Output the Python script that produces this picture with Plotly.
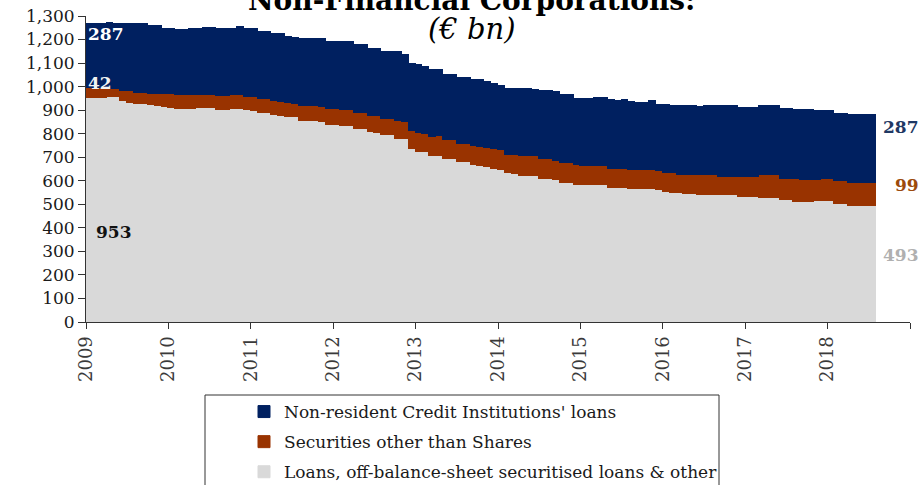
import plotly.graph_objects as go

# ---- data (EUR bn, monthly from Jan 2009) ----
year_labels = ["2009", "2010", "2011", "2012", "2013", "2014", "2015", "2016", "2017", "2018", ""]
year_ticks = [0, 12, 24, 36, 48, 60, 72, 84, 96, 108, 120]

months = list(range(115))

loans = [
    953, 953, 953, 956, 955, 940, 930, 928, 925, 920,
    918, 912, 909, 907, 906, 906, 908, 909, 909, 901,
    899, 905, 906, 902, 895, 890, 886, 880, 876, 872,
    870, 853, 853, 852, 850, 836, 836, 834, 832, 822,
    820, 807, 805, 796, 795, 779, 779, 737, 722, 722,
    705, 705, 691, 691, 680, 680, 668, 664, 658, 652,
    644, 633, 630, 620, 620, 620, 609, 609, 602, 592,
    592, 584, 582, 582, 582, 582, 571, 571, 571, 565,
    565, 565, 565, 561, 554, 547, 547, 543, 543, 541,
    541, 538, 538, 538, 538, 531, 531, 531, 528, 528,
    528, 517, 517, 510, 510, 510, 513, 513, 513, 502,
    502, 493, 493, 493, 493,
]

securities = [
    43, 43, 43, 32, 33, 40, 50, 45, 48, 49,
    51, 57, 60, 56, 57, 57, 58, 57, 57, 59,
    61, 61, 60, 54, 61, 56, 60, 57, 59, 57,
    58, 65, 65, 64, 65, 68, 68, 68, 68, 67,
    69, 68, 70, 65, 66, 75, 72, 75, 80, 78,
    82, 84, 81, 81, 78, 78, 78, 80, 82, 84,
    85, 78, 81, 86, 84, 84, 82, 82, 81, 83,
    85, 82, 81, 81, 79, 79, 81, 81, 81, 80,
    80, 82, 82, 81, 79, 86, 79, 83, 81, 82,
    82, 85, 78, 78, 78, 85, 85, 85, 95, 95,
    95, 92, 92, 99, 95, 95, 92, 93, 93, 97,
    97, 99, 99, 99, 99,
]

nonresident = [
    269, 269, 269, 284, 280, 288, 288, 291, 291, 287,
    287, 277, 277, 276, 276, 280, 280, 284, 284, 286,
    286, 280, 286, 287, 287, 286, 286, 288, 290, 283,
    279, 283, 283, 285, 286, 285, 285, 287, 289, 286,
    286, 286, 286, 286, 286, 293, 282, 285, 288, 283,
    282, 280, 279, 279, 279, 279, 284, 284, 280, 274,
    272, 277, 277, 282, 284, 280, 289, 289, 294, 291,
    289, 283, 286, 286, 291, 292, 293, 285, 290, 290,
    287, 285, 290, 281, 287, 283, 290, 290, 292, 290,
    293, 293, 300, 300, 300, 293, 293, 293, 293, 293,
    293, 297, 297, 290, 294, 294, 290, 289, 289, 286,
    286, 289, 289, 289, 286,
]

series_names = [
    "Loans, off-balance-sheet securitised loans & other",
    "Securities other than Shares",
    "Non-resident Credit Institutions' loans",
]
series_colors = ["#D9D9D9", "#993300", "#002060"]
legend_ranks = [3, 2, 1]

# ---- figure ----
W, H = 921, 485
ML, MR, MT, MB = 86, 11, 16, 163
PW, PH = W - ML - MR, H - MT - MB


def px_x(px):
    return (px - ML) / PW


def px_y(py):
    return (H - MB - py) / PH


fig = go.Figure()
for i, (name, vals, col) in enumerate(zip(series_names, [loans, securities, nonresident], series_colors)):
    fig.add_trace(go.Bar(
        x=months, y=vals, width=1, offset=0, name=name,
        legendgroup="g%d" % i, legendrank=legend_ranks[i],
        marker=dict(color=col, line=dict(color=col, width=1)),
        hoverinfo="skip",
    ))

SERIF = "DejaVu Serif"

fig.update_layout(
    width=W, height=H,
    margin=dict(l=ML, r=MR, t=MT, b=MB, autoexpand=False),
    paper_bgcolor="white", plot_bgcolor="white",
    barmode="stack", bargap=0,
    font=dict(family=SERIF, color="#1a1a1a"),
    showlegend=True,
    legend=dict(
        traceorder="grouped", tracegroupgap=5,
        x=px_x(244), y=px_y(394), xanchor="left", yanchor="top",
        bgcolor="rgba(0,0,0,0)", borderwidth=0,
        font=dict(family=SERIF, size=17, color="#1a1a1a"),
        itemclick=False, itemdoubleclick=False,
    ),
    xaxis=dict(
        range=[0, 120], tickmode="array", tickvals=year_ticks, ticktext=year_labels,
        tickangle=-90, ticks="outside", ticklen=6, tickcolor="#333",
        showline=True, linecolor="#333", linewidth=1,
        showgrid=False, zeroline=False,
        tickfont=dict(family=SERIF, size=18, color="#3a3a3a"),
    ),
    yaxis=dict(
        range=[0, 1300], dtick=100, tickformat=",",
        ticks="outside", ticklen=7, tickcolor="#333",
        showline=True, linecolor="#333", linewidth=1,
        showgrid=False, zeroline=False,
        tickfont=dict(family=SERIF, size=17, color="#1a1a1a"),
    ),
    shapes=[dict(
        type="rect", xref="paper", yref="paper",
        x0=px_x(205), x1=px_x(719), y0=px_y(395), y1=px_y(500),
        line=dict(color="#333", width=1), fillcolor="rgba(0,0,0,0)",
        layer="above",
    )],
)

ann = []
# title
ann.append(dict(text="<b>Non-Financial Corporations:</b>", xref="paper", yref="paper",
                x=px_x(471), y=px_y(19), xanchor="center", yanchor="bottom",
                showarrow=False, font=dict(family=SERIF, size=28, color="#000")))
ann.append(dict(text="<i>(€ bn)</i>", xref="paper", yref="paper",
                x=px_x(472), y=px_y(29), xanchor="center", yanchor="middle",
                showarrow=False, font=dict(family=SERIF, size=29, color="#000")))
# start-of-period labels
ann.append(dict(text="<b>287</b>", xref="x", yref="y", x=0, y=1222,
                xanchor="left", yanchor="middle", showarrow=False,
                font=dict(family=SERIF, size=17, color="#ffffff")))
ann.append(dict(text="<b>42</b>", xref="x", yref="y", x=0, y=1016,
                xanchor="left", yanchor="middle", showarrow=False,
                font=dict(family=SERIF, size=17, color="#f2f2f2")))
ann.append(dict(text="<b>953</b>", xref="x", yref="y", x=1.2, y=383,
                xanchor="left", yanchor="middle", showarrow=False,
                font=dict(family=SERIF, size=17, color="#111")))
# end-of-period labels
ann.append(dict(text="<b>287</b>", xref="paper", yref="y", x=px_x(921), y=828,
                xanchor="right", yanchor="middle", showarrow=False,
                font=dict(family=SERIF, size=17, color="#1F3864")))
ann.append(dict(text="<b>99</b>", xref="paper", yref="y", x=px_x(921), y=581,
                xanchor="right", yanchor="middle", showarrow=False,
                font=dict(family=SERIF, size=17, color="#9C4A0C")))
ann.append(dict(text="<b>493</b>", xref="paper", yref="y", x=px_x(921), y=283,
                xanchor="right", yanchor="middle", showarrow=False,
                font=dict(family=SERIF, size=17, color="#B0B0B0")))
fig.update_layout(annotations=ann)

fig.write_html(
    "out.html",
    config={"displayModeBar": False},
    post_script="document.body.style.margin='0';document.body.style.padding='0';",
)
